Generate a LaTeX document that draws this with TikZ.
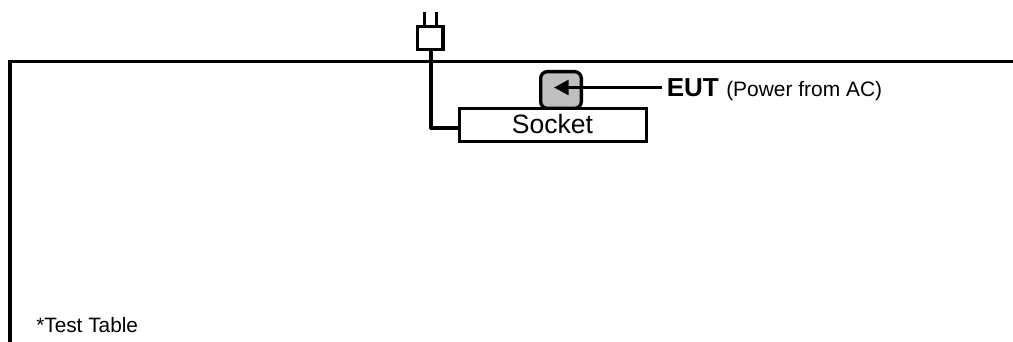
\documentclass[tikz,border=0pt]{standalone}
\usepackage{fontspec}
\setmainfont{Liberation Sans}
\usetikzlibrary{arrows.meta,positioning}
\tikzset{
  heavy/.style={draw=black,line width=2.5pt},
  cord/.style={draw=black,line width=2.9pt},
  box/.style={heavy,fill=white,inner sep=0pt,anchor=north west},
  lbl/.style={inner sep=0pt,anchor=base west,text=black},
}
\begin{document}
\begin{tikzpicture}[x=0.75pt,y=-0.75pt]
\useasboundingbox (0,0) rectangle (1013,342);
\clip (0,0) rectangle (1013,342);
% table
\coordinate (tl) at (10,61.5);
\coordinate (tr) at (1014,61.5);
\coordinate (bl) at (10,343);
\draw[heavy,line join=miter] (bl) -- (tl) -- (tr);
% plug
\coordinate (p1a) at (424.5,25);
\coordinate (p1b) at (424.5,12);
\coordinate (p2a) at (436.5,25);
\coordinate (p2b) at (436.5,12);
\draw[heavy] (p1a) -- (p1b);
\draw[heavy] (p2a) -- (p2b);
\node[box,minimum width=19pt,minimum height=17pt] (plug) at (416,25) {};
% socket
\node[box,minimum width=140.5pt,minimum height=24.7pt] (socket) at (457.5,107) {};
\node[inner sep=0pt,anchor=base,font=\fontsize{19.9pt}{22pt}\selectfont] (sockettext) at (552.5,133.5) {Socket};
% cord
\coordinate (bend) at (431,128);
\draw[cord,line join=round] (plug.south -| bend) -- (bend) -- (bend -| socket.west);
% EUT
\node[heavy,fill=black!25,rounded corners=5pt,minimum width=30.5pt,minimum height=27.5pt,inner sep=0pt,anchor=north west] (eut) at (539,70) {};
\node[lbl,font=\fontsize{19.5pt}{22pt}\selectfont\bfseries] (euttext) at (666.5,97) {EUT};
\node[lbl,font=\fontsize{15.7pt}{18pt}\selectfont] (power) at (726,97) {(Power from AC)};
\coordinate (arrowtip) at (554,87.5);
\draw[heavy,-{Triangle[length=11pt,width=11pt]}] (euttext.west |- arrowtip) ++(-5,0) -- (arrowtip);
% caption
\node[lbl,font=\fontsize{15.6pt}{18pt}\selectfont] (caption) at (36,332) {*Test Table};
\end{tikzpicture}
\end{document}
